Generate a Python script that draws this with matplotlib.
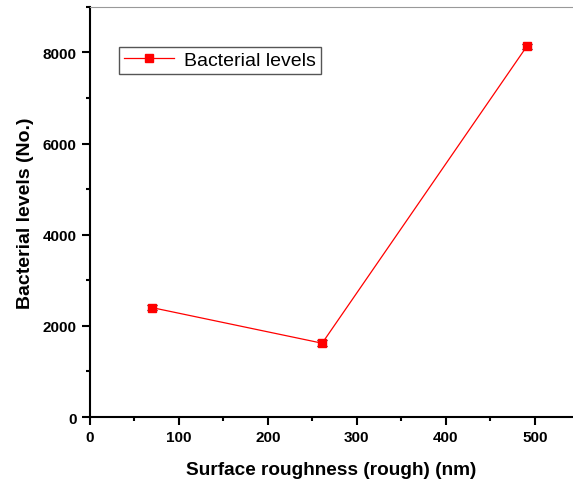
import matplotlib
matplotlib.use("Agg")
import matplotlib.pyplot as plt
from matplotlib.lines import Line2D
from matplotlib.ticker import MultipleLocator

plt.rcParams['font.family'] = ['Liberation Sans', 'DejaVu Sans']

roughness = [70, 261, 491]
bacteria = [2400, 1620, 8130]
bacteria_err = [60, 60, 60]

fig = plt.figure(figsize=(5.73, 4.85), dpi=100)
ax = fig.add_axes([0.157, 0.138, 0.843, 0.846])

ax.errorbar(roughness, bacteria, yerr=bacteria_err, color='red', lw=0.9,
            marker='s', ms=5.5, mfc='red', mec='red', ecolor='black',
            elinewidth=0.9, capsize=3.5, capthick=0.9)

ax.set_xlim(0, 543)
ax.set_ylim(0, 9000)
ax.xaxis.set_major_locator(MultipleLocator(100))
ax.xaxis.set_minor_locator(MultipleLocator(50))
ax.yaxis.set_major_locator(MultipleLocator(2000))
ax.yaxis.set_minor_locator(MultipleLocator(1000))

ax.spines['right'].set_visible(False)
ax.spines['top'].set_color('#999999')
ax.spines['left'].set_linewidth(1.5)
ax.spines['bottom'].set_linewidth(1.5)
ax.tick_params(which='major', direction='out', length=6, width=1.5, labelsize=11)
ax.tick_params(which='minor', direction='out', length=3, width=1.5)
for lab in ax.get_xticklabels() + ax.get_yticklabels():
    lab.set_fontweight('bold')

ax.set_xlabel('Surface roughness (rough) (nm)', fontsize=13.7, fontweight='bold', labelpad=12)
ax.set_ylabel('Bacterial levels (No.)', fontsize=14, fontweight='bold', labelpad=6)

handle = Line2D([], [], color='red', lw=0.9, marker='s', ms=5.5, mfc='red', mec='red')
leg = ax.legend([handle], ['Bacterial levels'], loc='upper left',
                bbox_to_anchor=(0.06, 0.903), fontsize=14,
                fancybox=False, framealpha=1, edgecolor='#555555',
                handlelength=2.6, borderpad=0.25, handletextpad=0.5,
                borderaxespad=0)
leg.get_frame().set_linewidth(1.0)

fig.savefig('out.png', dpi=100)
